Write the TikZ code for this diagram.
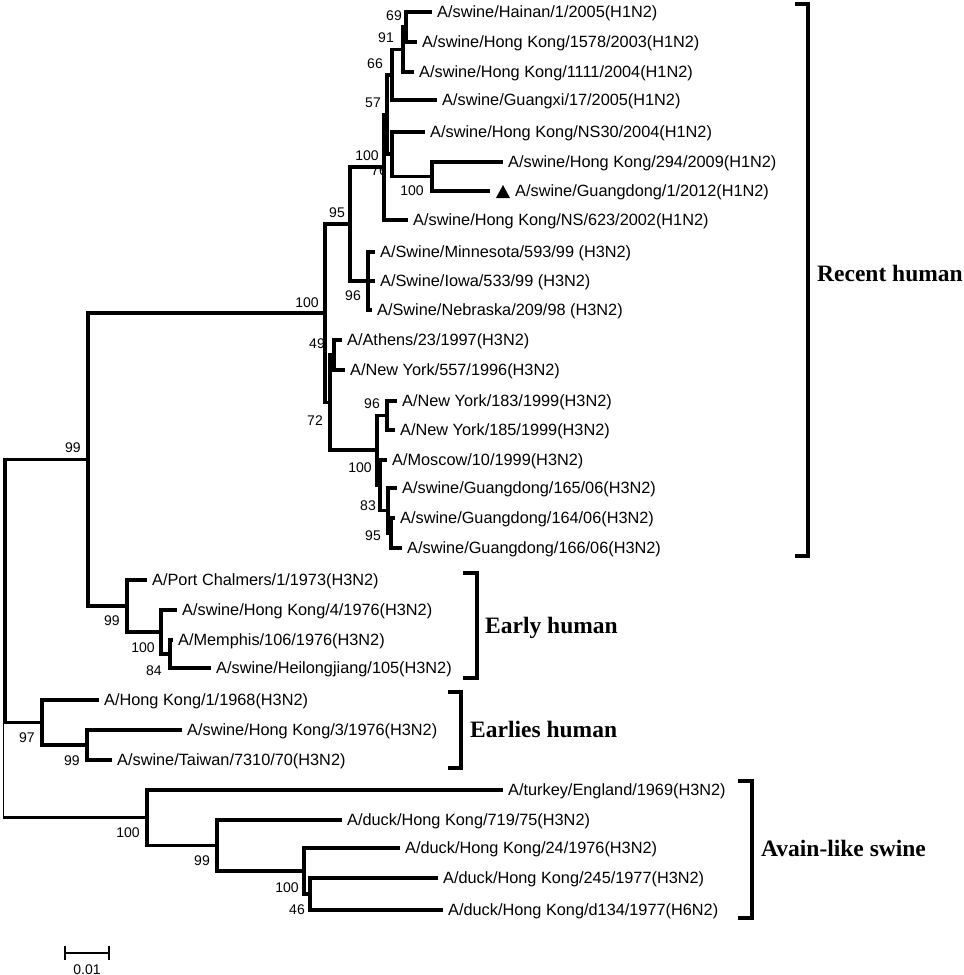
\documentclass[tikz,border=0pt]{standalone}
\usepackage{fontspec}
\setmainfont{Liberation Sans}
\newfontfamily\grpfont{Liberation Serif}
\begin{document}
\begin{tikzpicture}[x=1pt,y=-1pt,
  br/.style={line width=3.2pt, line join=miter},
  rootline/.style={line width=1pt},
  bk/.style={line width=3.5pt, line join=miter},
  leaf/.style={anchor=west, inner xsep=5pt, inner ysep=0pt, text height=11.7pt, text depth=0pt, font=\fontsize{16.3}{18}\selectfont},
  bs/.style={inner sep=0pt, text height=10pt, text depth=0pt, font=\fontsize{14}{16}\selectfont},
  grp/.style={anchor=west, inner sep=0pt, text height=15.5pt, text depth=0pt, font=\grpfont\bfseries\fontsize{23.5}{26}\selectfont}]
\useasboundingbox (0,0) rectangle (964,975);

% ---------- bootstrap labels (drawn first, lines may cover them)
\node[bs] (b69) at (394,15) {69};
\node[bs] (b91) at (386,37) {91};
\node[bs] (b66) at (375,63) {66};
\node[bs] (b57) at (373,102) {57};
\node[bs] (b100p) at (367,155) {100};
\node[bs] (b76) at (379,170) {76};
\node[bs] (b100b) at (412,190) {100};
\node[bs] (b95) at (337,212) {95};
\node[bs] (b96b) at (353,295) {96};
\node[bs] (b100p2) at (307,302) {100};
\node[bs] (b49) at (317,343) {49};
\node[bs] (b72) at (315,420) {72};
\node[bs] (b96) at (372,403) {96};
\node[bs] (b100c) at (360,467) {100};
\node[bs] (b83) at (368,505) {83};
\node[bs] (b95r) at (373,535) {95};
\node[bs] (b99t) at (73,447) {99};
\node[bs] (b99e) at (112,620) {99};
\node[bs] (b100e) at (143,647) {100};
\node[bs] (b84) at (154,670) {84};
\node[bs] (b97) at (27,737) {97};
\node[bs] (b99l) at (72,760) {99};
\node[bs] (b100a) at (128,832) {100};
\node[bs] (b99a) at (202,860) {99};
\node[bs] (b100c2) at (287,887) {100};
\node[bs] (b46) at (297,909) {46};

% ---------- leaves
\node[leaf] (l1) at (432,12) {A/swine/Hainan/1/2005(H1N2)};
\node[leaf] (l2) at (417,42) {A/swine/Hong Kong/1578/2003(H1N2)};
\node[leaf] (l3) at (414,72) {A/swine/Hong Kong/1111/2004(H1N2)};
\node[leaf] (l4) at (437,100) {A/swine/Guangxi/17/2005(H1N2)};
\node[leaf] (l5) at (425,132) {A/swine/Hong Kong/NS30/2004(H1N2)};
\node[leaf] (l6) at (503,162) {A/swine/Hong Kong/294/2009(H1N2)};
\node[leaf] (l7) at (510,191) {A/swine/Guangdong/1/2012(H1N2)};
\coordinate (l7end) at (490,191);
\node[leaf] (l8) at (408,220) {A/swine/Hong Kong/NS/623/2002(H1N2)};
\node[leaf] (l9) at (375,252) {A/Swine/Minnesota/593/99 (H3N2)};
\node[leaf] (l10) at (375,281) {A/Swine/Iowa/533/99 (H3N2)};
\node[leaf] (l11) at (372,310) {A/Swine/Nebraska/209/98 (H3N2)};
\node[leaf] (l12) at (342,340) {A/Athens/23/1997(H3N2)};
\node[leaf] (l13) at (345,370) {A/New York/557/1996(H3N2)};
\node[leaf] (l14) at (397,401) {A/New York/183/1999(H3N2)};
\node[leaf] (l15) at (395,430) {A/New York/185/1999(H3N2)};
\node[leaf] (l16) at (387,460) {A/Moscow/10/1999(H3N2)};
\node[leaf] (l17) at (397,488) {A/swine/Guangdong/165/06(H3N2)};
\node[leaf] (l18) at (395,518) {A/swine/Guangdong/164/06(H3N2)};
\node[leaf] (l19) at (402,548) {A/swine/Guangdong/166/06(H3N2)};
\node[leaf] (l20) at (147,580) {A/Port Chalmers/1/1973(H3N2)};
\node[leaf] (l21) at (177,610) {A/swine/Hong Kong/4/1976(H3N2)};
\node[leaf] (l22) at (173,640) {A/Memphis/106/1976(H3N2)};
\node[leaf] (l23) at (211,668) {A/swine/Heilongjiang/105(H3N2)};
\node[leaf] (l24) at (99,700) {A/Hong Kong/1/1968(H3N2)};
\node[leaf] (l25) at (182,730) {A/swine/Hong Kong/3/1976(H3N2)};
\node[leaf] (l26) at (112,760) {A/swine/Taiwan/7310/70(H3N2)};
\node[leaf] (l27) at (503,790) {A/turkey/England/1969(H3N2)};
\node[leaf] (l28) at (342,820) {A/duck/Hong Kong/719/75(H3N2)};
\node[leaf] (l29) at (400,848) {A/duck/Hong Kong/24/1976(H3N2)};
\node[leaf] (l30) at (438,878) {A/duck/Hong Kong/245/1977(H3N2)};
\node[leaf] (l31) at (443,910) {A/duck/Hong Kong/d134/1977(H6N2)};

% ---------- internal nodes
\coordinate (n69) at (406,27);
\coordinate (n91) at (403,49.5);
\coordinate (n66) at (392,75);
\coordinate (n100b) at (432,176.5);
\coordinate (n76) at (392,154);
\coordinate (n57) at (387,114.5);
\coordinate (nP) at (384,167);
\coordinate (n96b) at (368,281);
\coordinate (n95) at (350,224);
\coordinate (nA) at (334,355);
\coordinate (n96) at (387,415.5);
\coordinate (n95r) at (391,533);
\coordinate (n83) at (388,510.5);
\coordinate (nY) at (380,485);
\coordinate (nC) at (377,450);
\coordinate (nX) at (330,402.5);
\coordinate (nP2) at (325,313);
\coordinate (n84) at (170,654);
\coordinate (n100e) at (161,632);
\coordinate (n99e) at (127,606);
\coordinate (n99t) at (88,459.5);
\coordinate (n99l) at (87,745);
\coordinate (n97) at (42,722.5);
\coordinate (nL) at (5,591);
\coordinate (n46) at (310,894);
\coordinate (n100c) at (304,871);
\coordinate (n99a) at (217,845.5);
\coordinate (n100a) at (147,817.75);
\coordinate (rtop) at (3,591);
\coordinate (rbot) at (3,817.75);

% ---------- branches
\draw[br] (l1.west) -| (n69) |- (l2.west);
\draw[br] (n69) -| (n91) |- (l3.west);
\draw[br] (n91) -| (n66) |- (l4.west);
\draw[br] (l6.west) -| (n100b) |- (l7end);
\draw[br] (l5.west) -| (n76) |- (n100b);
\draw[br] (n66) -| (n57) |- (n76);
\draw[br] (n57) -| (nP) |- (l8.west);
\draw[br] (l9.west) -| (n96b) |- (l11.west);
\draw[br] (n96b) -- (l10.west);
\draw[br] (nP) -| (n95) |- (n96b);
\draw[br] (l12.west) -| (nA) |- (l13.west);
\draw[br] (l14.west) -| (n96) |- (l15.west);
\draw[br] (l18.west) -| (n95r) |- (l19.west);
\draw[br] (l17.west) -| (n83) |- (n95r);
\draw[br] (l16.west) -| (nY) |- (n83);
\draw[br] (n96) -| (nC) |- (nY);
\draw[br] (nA) -| (nX) |- (nC);
\draw[br] (n95) -| (nP2) |- (nX);
\draw[br] (l22.west) -| (n84) |- (l23.west);
\draw[br] (l21.west) -| (n100e) |- (n84);
\draw[br] (l20.west) -| (n99e) |- (n100e);
\draw[br] (nP2) -| (n99t) |- (n99e);
\draw[br] (l25.west) -| (n99l) |- (l26.west);
\draw[br] (l24.west) -| (n97) |- (n99l);
\draw[br] (n99t) -| (nL) |- (n97);
\draw[br] (l30.west) -| (n46) |- (l31.west);
\draw[br] (l29.west) -| (n100c) |- (n46);
\draw[br] (l28.west) -| (n99a) |- (n100c);
\draw[br] (l27.west) -| (n100a) |- (n99a);
\draw[rootline] (rtop) -- (rbot);
\draw[br] (rbot) -- (n100a);

% ---------- marker triangle
\fill (496,198) -- (510,198) -- (503,185) -- cycle;

% ---------- clade brackets and names
\draw[bk] (795,4) -- (808,4) -- (808,556) -- (795,556);
\node[grp] (g1) at (817,274) {Recent human};
\draw[bk] (463,573) -- (477,573) -- (477,678) -- (463,678);
\node[grp] (g2) at (485,626) {Early human};
\draw[bk] (448,692) -- (461,692) -- (461,768) -- (448,768);
\node[grp] (g3) at (470,730) {Earlies human};
\draw[bk] (738,781) -- (752,781) -- (752,918) -- (738,918);
\node[grp] (g4) at (761,849) {Avain-like swine};

% ---------- scale bar
\draw[line width=1.2pt] (65,953) -- (109,953);
\draw[line width=1.2pt] (65,946) -- (65,960);
\draw[line width=1.2pt] (109,946) -- (109,960);
\node[bs] (sc) at (87,969) {0.01};
\end{tikzpicture}
\end{document}
